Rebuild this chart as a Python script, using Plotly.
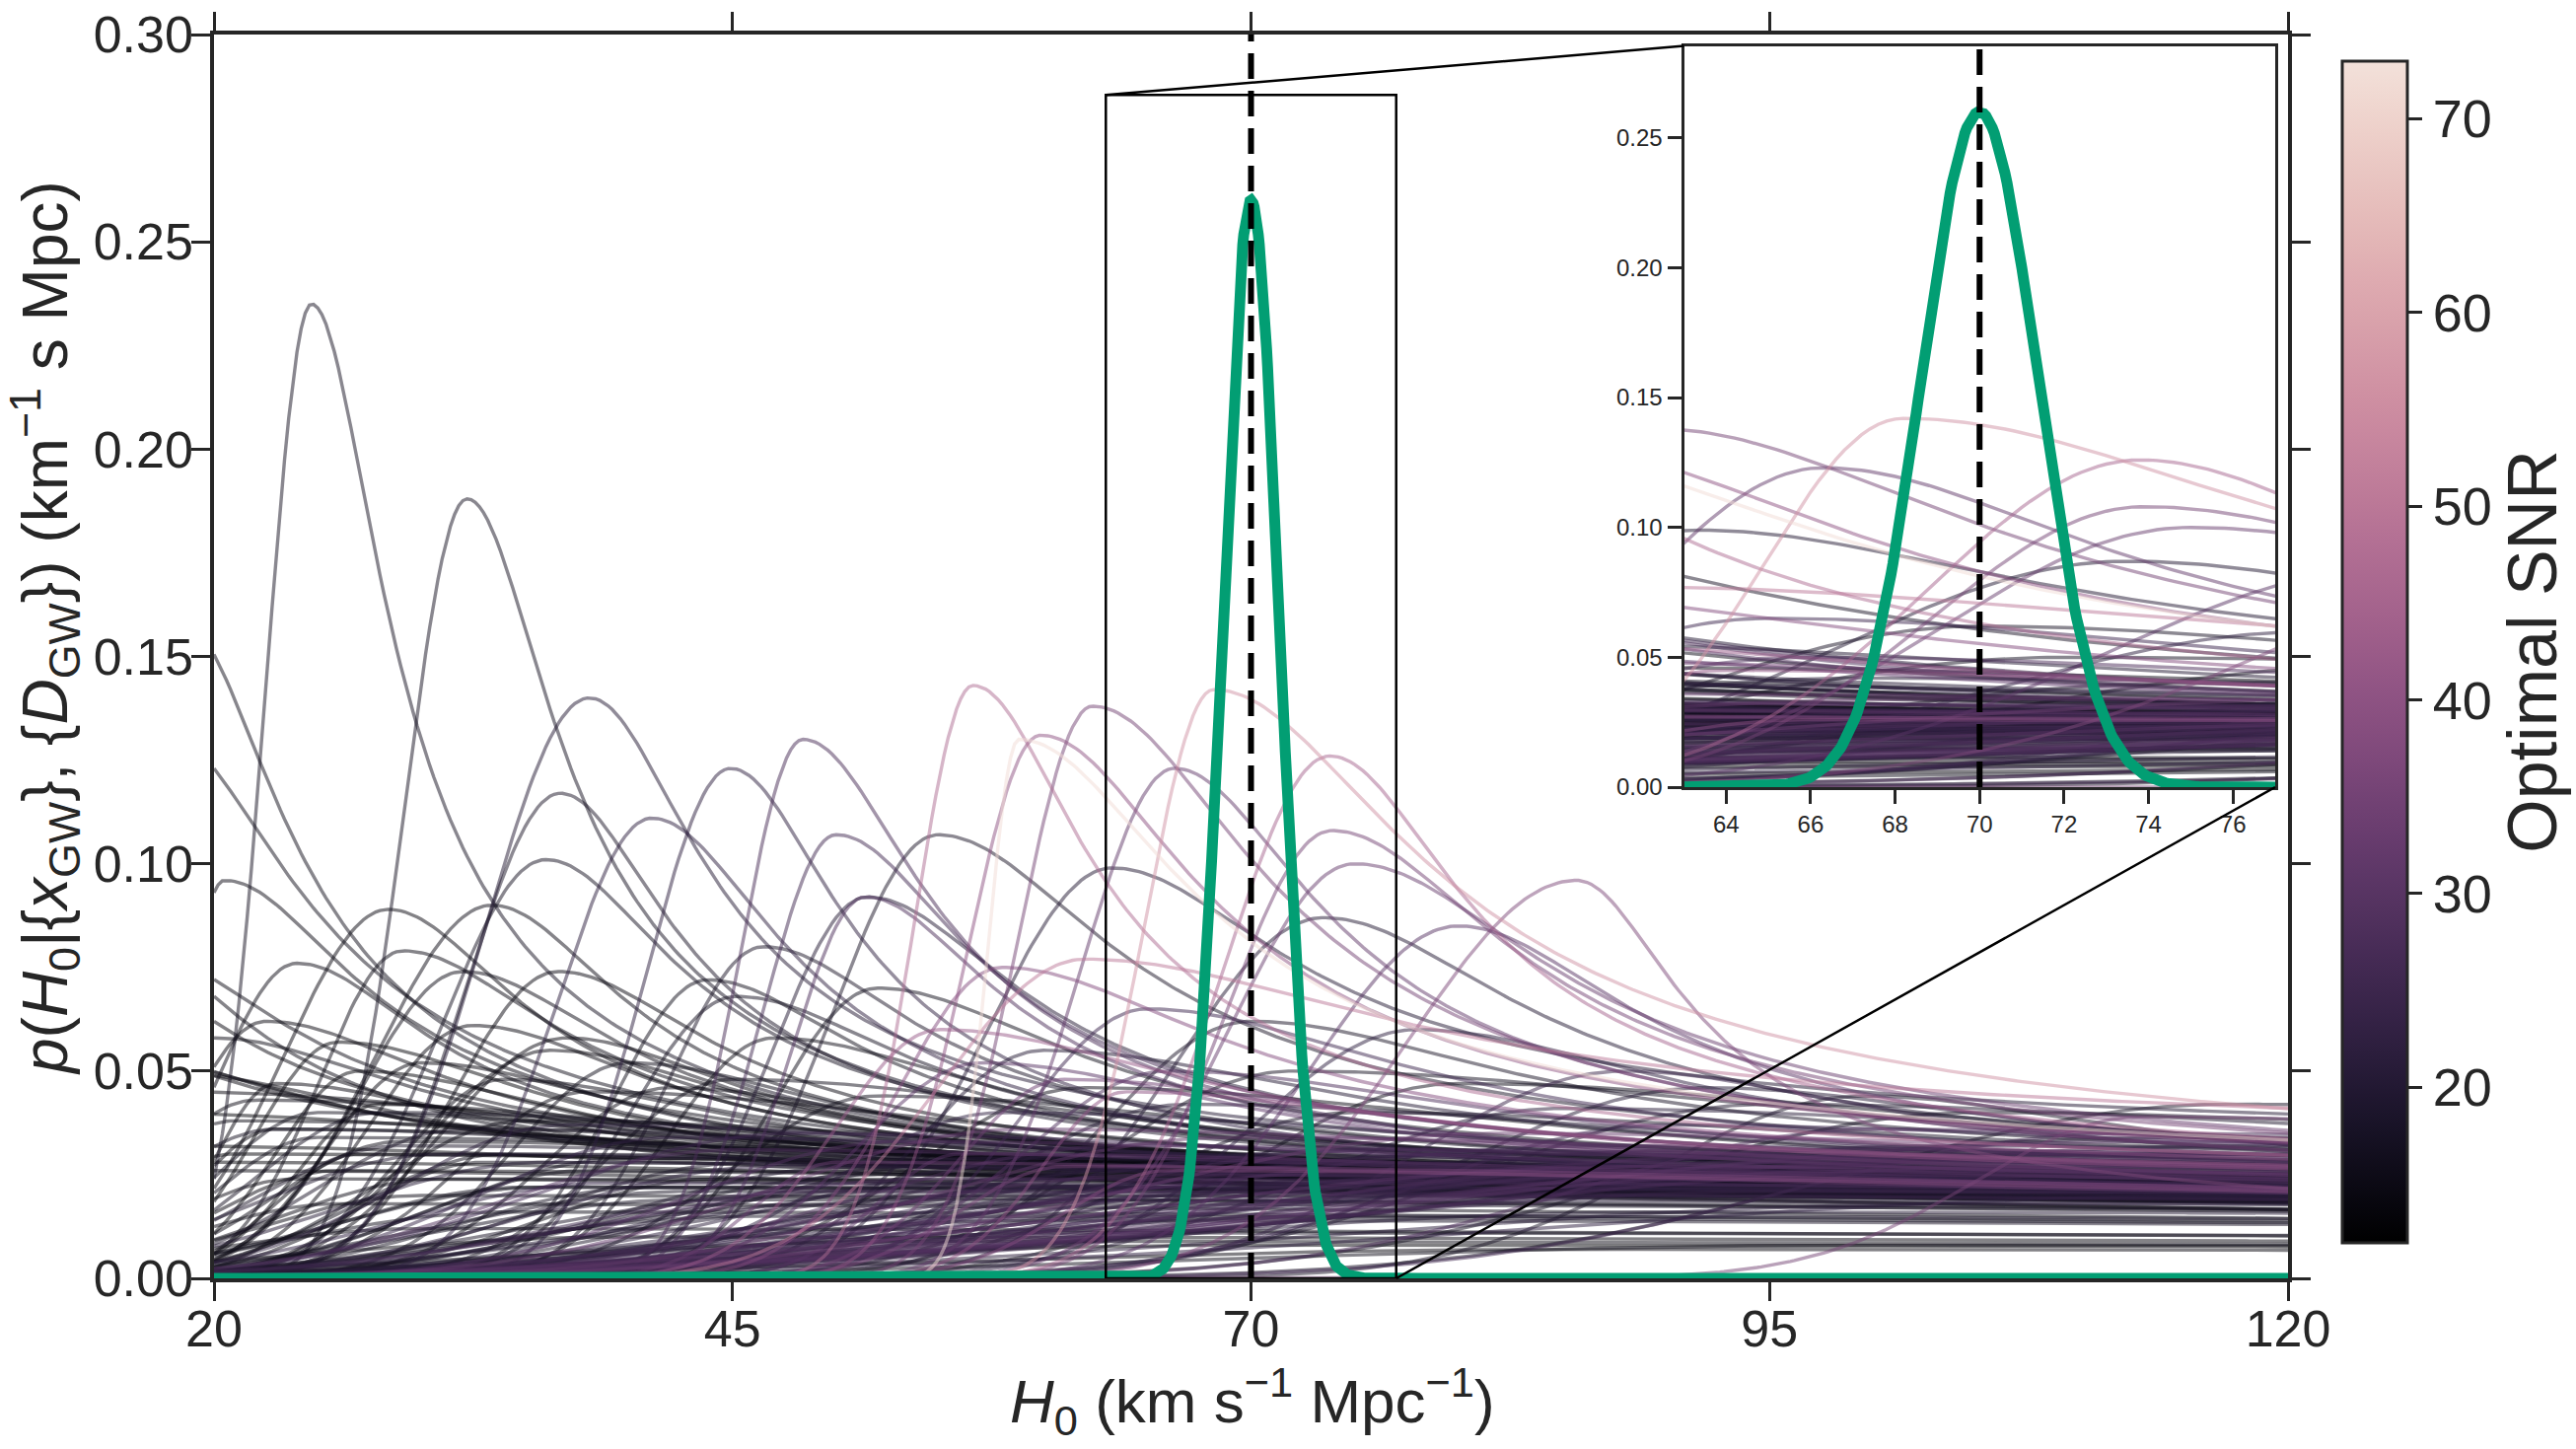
import numpy as np
import plotly.graph_objects as go

# ---------------- data ----------------
# Prominent single-event H0 posteriors: peak location, peak density,
# rise width (left), fall width (right), tail density and optimal SNR
peak_h0 = [24.7, 32.2, 18.5, 38.1, 36.7, 44.9, 48.4, 41.1, 50.0, 36.0,
           33.4, 28.4, 24.0, 32.0, 46.5, 17.5, 20.5, 14.0, 51.4, 29.1,
           36.6, 43.8, 32.5, 37.0, 45.2, 36.2, 22.5, 16.0, 12.0, 20.0,
           27.0, 23.0, 56.6, 62.35, 59.85, 58.8, 68.2, 73.8, 66.3, 54.9,
           63.3, 73.5, 51.5, 73.9, 75.0, 85.7, 113.0, 99.6, 62.0, 80.0,
           58.0, 55.0, 65.0, 70.0, 78.0, 60.0, 52.0, 47.0, 66.0, 88.0,
           92.0, 57.0, 61.0, 64.0, 26.0, 30.0, 34.0, 40.0, 42.0, 28.0]
peak_density = [.235, .188, .158, .140, .117, .123, .130, .111, .107, .101,
                .090, .089, .076, .074, .080, .132, .096, .090, .092, .079,
                .074, .072, .061, .058, .068, .055, .062, .080, .090, .058,
                .050, .047, .143, .138, .131, .130, .142, .126, .123, .107,
                .099, .087, .092, .108, .100, .096, .039, .044, .077, .085,
                .075, .060, .065, .062, .060, .055, .070, .058, .050, .050,
                .046, .052, .048, .045, .057, .052, .048, .052, .046, .042]
rise_width = [2.2, 3.0, 3.0, 5.0, 4.5, 4.0, 3.0, 4.5, 3.5, 5.0,
              5.5, 5.0, 4.0, 5.0, 4.5, 3.0, 2.0, 3.0, 3.5, 4.0,
              5.0, 4.5, 5.0, 6.0, 5.0, 6.0, 4.0, 3.0, 3.0, 3.0,
              4.0, 3.0, 2.8, 3.5, 3.5, 1.5, 3.3, 5.0, 4.5, 5.0,
              6.0, 7.0, 4.5, 5.0, 6.0, 8.0, 8.0, 10.0, 7.0, 7.0,
              5.0, 5.0, 6.0, 7.0, 8.0, 6.0, 5.0, 5.0, 7.0, 10.0,
              12.0, 6.0, 5.0, 4.0, 4.0, 4.5, 5.0, 5.5, 6.0, 4.0]
fall_width = [3.3, 4.0, 4.5, 5.0, 5.0, 5.0, 5.5, 6.0, 6.0, 6.0,
              6.0, 6.0, 6.0, 7.0, 7.0, 6.0, 6.0, 6.0, 6.0, 7.0,
              7.0, 7.0, 8.0, 8.0, 8.0, 9.0, 8.0, 7.0, 6.0, 9.0,
              10.0, 10.0, 5.0, 7.5, 7.0, 7.5, 9.0, 6.0, 6.5, 8.0,
              8.0, 9.0, 7.0, 8.0, 9.0, 4.7, 20.0, 12.0, 14.0, 8.0,
              10.0, 12.0, 12.0, 12.0, 12.0, 14.0, 9.0, 10.0, 15.0, 12.0,
              15.0, 12.0, 15.0, 15.0, 9.0, 10.0, 11.0, 10.0, 12.0, 12.0]
tail_density = [.012, .015, .012, .020, .018, .015, .015, .015, .020, .020,
                .018, .018, .020, .020, .020, .015, .020, .015, .020, .020,
                .020, .020, .020, .020, .020, .020, .020, .020, .020, .020,
                .018, .018, .020, .015, .020, .020, .020, .020, .020, .020,
                .030, .020, .020, .020, .020, .010, .030, .020, .030, .020,
                .020, .020, .020, .022, .020, .020, .020, .020, .020, .020,
                .020, .018, .020, .020, .018, .018, .018, .018, .018, .016]
event_snr = [17, 17, 16, 20, 18, 22, 27, 22, 26, 17,
             15, 14, 15, 15, 18, 16, 15, 15, 28, 15,
             14, 16, 14, 14, 17, 14, 14, 15, 14, 15,
             13, 14, 47, 35, 40, 72, 56, 45, 32, 18,
             20, 20, 20, 35, 33, 37, 35, 18, 50, 30,
             38, 42, 25, 18, 22, 20, 16, 15, 28, 24,
             20, 30, 34, 40, 13, 14, 15, 16, 15, 13]

# Broad, low single-event posteriors forming the dense band
bg_peak_h0 = [18, 15, 21, 25, 27, 23, 33, 29, 38, 31,
              44, 36, 41, 47, 52, 39, 58, 49, 63, 55,
              68, 61, 74, 66, 80, 71, 86, 77, 92, 83,
              98, 89, 104, 95, 110, 101, 115, 107, 20, 24,
              30, 35, 43, 50, 57, 65, 72, 79, 88, 96,
              16, 19, 26, 34, 46, 60, 75, 90, 105, 118,
              40, 55, 70, 85, 100, 30, 62, 48, 53, 59,
              64, 69, 76, 82, 42, 37, 45, 32, 28, 22,
              58, 67, 75, 85, 95, 105, 117, 52, 62, 45,
              38, 72, 80, 90, 100, 112, 56, 50, 61, 66,
              21, 26, 31, 36, 43, 48, 54, 60, 66, 73,
              79, 85, 91, 97, 103, 109, 114, 119, 23, 29,
              34, 40, 46, 51, 57, 63, 69, 75, 81, 87,
              93, 99, 106, 113, 17, 14, 12, 10, 25, 35]
bg_peak_density = [.045, .040, .038, .034, .030, .036, .028, .032, .026, .030,
                   .024, .028, .022, .027, .025, .023, .029, .021, .026, .024,
                   .028, .022, .027, .025, .030, .023, .029, .026, .031, .024,
                   .030, .027, .032, .028, .030, .026, .034, .029, .028, .024,
                   .020, .022, .019, .018, .020, .019, .021, .020, .022, .021,
                   .032, .026, .018, .016, .015, .014, .015, .016, .018, .020,
                   .010, .009, .008, .007, .008, .012, .011, .035, .033, .036,
                   .032, .034, .031, .035, .034, .037, .031, .036, .040, .043,
                   .040, .042, .040, .041, .042, .040, .042, .044, .046, .048,
                   .045, .050, .047, .037, .036, .035, .030, .028, .027, .026,
                   .030, .026, .024, .022, .021, .020, .022, .024, .023, .025,
                   .024, .026, .025, .027, .028, .027, .030, .032, .036, .033,
                   .030, .029, .028, .027, .029, .030, .028, .031, .030, .032,
                   .029, .031, .030, .033, .050, .055, .060, .065, .040, .038]
bg_rise_width = [4, 4, 5, 5, 4, 6, 6, 7, 8, 9,
                 8, 10, 9, 11, 12, 10, 13, 12, 14, 15,
                 16, 14, 18, 16, 20, 17, 22, 20, 24, 22,
                 26, 25, 28, 26, 30, 28, 32, 30, 5, 6,
                 8, 9, 12, 14, 16, 18, 20, 22, 24, 26,
                 4, 5, 7, 10, 13, 18, 22, 26, 30, 34,
                 15, 20, 25, 28, 30, 10, 20, 12, 10, 12,
                 13, 14, 16, 18, 9, 8, 11, 7, 6, 5,
                 8, 9, 10, 12, 14, 16, 18, 7, 8, 6,
                 6, 9, 10, 12, 14, 16, 4, 4, 5, 5,
                 5, 6, 8, 10, 12, 13, 15, 17, 18, 20,
                 22, 24, 26, 28, 30, 32, 34, 36, 4, 6,
                 7, 9, 10, 11, 13, 15, 17, 19, 21, 23,
                 25, 27, 30, 33, 3, 3, 3, 3, 5, 7]
bg_fall_width = [25, 30, 35, 40, 45, 30, 50, 40, 55, 45,
                 60, 50, 70, 45, 55, 65, 40, 70, 50, 60,
                 45, 70, 55, 65, 50, 75, 45, 60, 40, 70,
                 45, 55, 40, 60, 50, 55, 40, 50, 50, 60,
                 70, 65, 80, 80, 75, 80, 75, 80, 70, 75,
                 40, 55, 80, 90, 90, 90, 90, 90, 90, 90,
                 90, 90, 90, 90, 90, 90, 90, 35, 40, 35,
                 45, 40, 45, 40, 35, 30, 40, 35, 30, 28,
                 25, 25, 28, 30, 30, 30, 30, 22, 22, 20,
                 22, 25, 25, 30, 30, 35, 40, 45, 50, 45,
                 60, 70, 75, 80, 85, 80, 75, 70, 65, 60,
                 55, 50, 45, 45, 40, 40, 40, 40, 35, 40,
                 45, 50, 55, 60, 50, 45, 50, 45, 40, 40,
                 40, 35, 35, 35, 12, 10, 9, 8, 25, 30]
bg_tail_density = [.012, .010, .012, .014, .010, .012, .015, .012, .016, .010,
                   .014, .012, .015, .011, .013, .016, .010, .014, .012, .015,
                   .013, .016, .014, .012, .015, .013, .016, .014, .018, .012,
                   .017, .015, .020, .016, .020, .014, .022, .017, .010, .012,
                   .010, .013, .011, .012, .013, .012, .014, .013, .015, .014,
                   .008, .008, .008, .008, .008, .008, .009, .010, .011, .012,
                   .006, .005, .005, .004, .005, .006, .007, .012, .013, .014,
                   .013, .015, .014, .016, .012, .012, .013, .011, .011, .011,
                   .016, .018, .018, .020, .022, .024, .026, .014, .016, .014,
                   .013, .018, .018, .020, .022, .024, .012, .012, .012, .012,
                   .012, .014, .013, .015, .016, .017, .016, .018, .017, .019,
                   .018, .020, .019, .021, .020, .022, .021, .023, .010, .011,
                   .012, .013, .014, .015, .016, .017, .018, .019, .020, .021,
                   .022, .023, .024, .025, .015, .018, .020, .022, .012, .014]
bg_snr = [14, 13, 15, 16, 14, 17, 15, 18, 16, 19,
          15, 20, 17, 21, 16, 22, 18, 24, 19, 26,
          21, 23, 20, 27, 22, 25, 19, 28, 21, 24,
          23, 30, 22, 26, 24, 29, 20, 27, 13, 14,
          15, 16, 17, 18, 19, 20, 21, 22, 23, 24,
          13, 14, 15, 16, 17, 18, 19, 20, 21, 22,
          14, 15, 13, 14, 16, 15, 17, 25, 29, 32,
          27, 31, 26, 33, 23, 21, 28, 18, 17, 15,
          22, 20, 18, 21, 19, 17, 18, 16, 15, 16,
          15, 17, 16, 25, 28, 26, 30, 33, 36, 38,
          13, 14, 15, 16, 17, 18, 19, 20, 21, 22,
          23, 24, 25, 26, 27, 28, 24, 22, 14, 15,
          16, 17, 18, 19, 20, 21, 22, 23, 24, 25,
          26, 27, 28, 29, 14, 13, 15, 14, 16, 15]

# Combined posterior (green) and true value (dashed)
combined_h0 = 70.0
combined_peak = 0.26
combined_width = 1.38
true_h0 = 70.0

# axis settings
h0_range = [20, 120]
p_range = [0, 0.30]
x_ticks = [20, 45, 70, 95, 120]
zoom_h0 = [63, 77]
zoom_p = [0, 0.2854]
zoom_x_ticks = [64, 66, 68, 70, 72, 74, 76]
snr_range = [12, 73]
snr_ticks = [20, 30, 40, 50, 60, 70]

x_title = "<i>H</i><sub>0</sub> (km s<sup>\u22121</sup> Mpc<sup>\u22121</sup>)"
y_title = ("<i>p</i>(<i>H</i><sub>0</sub>|{<i>x</i><sub>GW</sub>}, "
           "{<i>D</i><sub>GW</sub>}) (km<sup>\u22121</sup> s Mpc)")
cbar_title = "Optimal SNR"

# ---------------- helpers ----------------
FONT = "Liberation Sans, Arial, sans-serif"
AX = "#262626"
GREEN = "#029E73"
LW = 3.4


def shape(x, mu, amp, sl, sr, tail):
    d = x - mu
    left = amp * np.exp(-0.5 * (d / sl) ** 2)
    right = tail + (amp - tail) / np.sqrt(1.0 + (d / sr) ** 2)
    return np.where(d < 0, left, right)


def cubehelix(v, light=0.9, dark=0.0, start=0.0, rot=0.4, hue=0.8):
    x = dark + v * (light - dark)
    a = hue * x * (1 - x) / 2
    phi = 2 * np.pi * (start / 3 + rot * x)
    r = x + a * (-0.14861 * np.cos(phi) + 1.78277 * np.sin(phi))
    g = x + a * (-0.29227 * np.cos(phi) - 0.90649 * np.sin(phi))
    b = x + a * (1.97294 * np.cos(phi))
    return tuple(int(round(255 * min(1, max(0, c)))) for c in (r, g, b))


def snr_color(s, alpha=0.5):
    v = (s - snr_range[0]) / (snr_range[1] - snr_range[0])
    v = min(1, max(0, v))
    r, g, b = cubehelix(v)
    return f"rgba({r},{g},{b},{alpha})"


colorscale = []
for i in range(33):
    v = i / 32
    r, g, b = cubehelix(v)
    colorscale.append([v, f"rgb({r},{g},{b})"])

# ---------------- figure ----------------
W, H = 2612, 1469
ML, MR, MT, MB = 217, 292, 35, 173
PW, PH = W - ML - MR, H - MT - MB
ix0, ix1 = (1707.5 - ML) / PW, (2307 - ML) / PW
iy0, iy1 = (H - MB - 798) / PH, (H - MB - 46.6) / PH

grid = np.arange(h0_range[0], h0_range[1] + 1e-9, 0.2)
mask = (grid >= zoom_h0[0] - 0.4) & (grid <= zoom_h0[1] + 0.4)

curves = []
for i in range(len(peak_h0)):
    curves.append((event_snr[i], peak_h0[i], peak_density[i], rise_width[i],
                   fall_width[i], tail_density[i]))
for i in range(len(bg_peak_h0)):
    curves.append((bg_snr[i], bg_peak_h0[i], bg_peak_density[i], bg_rise_width[i],
                   bg_fall_width[i], bg_tail_density[i]))
curves.sort(key=lambda c: c[0])

fig = go.Figure()
for snr, mu, amp, sl, sr, tail in curves:
    y = shape(grid, mu, amp, sl, sr, tail)
    col = snr_color(snr)
    fig.add_trace(go.Scatter(x=grid, y=y, mode="lines",
                             line=dict(color=col, width=LW),
                             hoverinfo="skip", xaxis="x", yaxis="y"))
    fig.add_trace(go.Scatter(x=grid[mask], y=y[mask], mode="lines",
                             line=dict(color=col, width=LW),
                             hoverinfo="skip", xaxis="x2", yaxis="y2"))

fine = np.arange(h0_range[0], h0_range[1] + 1e-9, 0.05)
green = combined_peak * np.exp(-0.5 * ((fine - combined_h0) / combined_width) ** 2)
fmask = (fine >= zoom_h0[0] - 0.2) & (fine <= zoom_h0[1] + 0.2)
fig.add_trace(go.Scatter(x=fine, y=green, mode="lines",
                         line=dict(color=GREEN, width=11), hoverinfo="skip",
                         xaxis="x", yaxis="y"))
fig.add_trace(go.Scatter(x=fine[fmask], y=green[fmask], mode="lines",
                         line=dict(color=GREEN, width=11), hoverinfo="skip",
                         xaxis="x2", yaxis="y2"))

fig.add_trace(go.Scatter(x=[true_h0, true_h0], y=p_range, mode="lines",
                         line=dict(color="black", width=6, dash="26px,12px"),
                         hoverinfo="skip", xaxis="x", yaxis="y"))
fig.add_trace(go.Scatter(x=[true_h0, true_h0], y=zoom_p, mode="lines",
                         line=dict(color="black", width=6, dash="26px,12px"),
                         hoverinfo="skip", xaxis="x2", yaxis="y2"))

# colorbar carrier
fig.add_trace(go.Scatter(
    x=[h0_range[0], h0_range[0]], y=[-1, -1], mode="markers",
    marker=dict(size=1, color=snr_range, cmin=snr_range[0], cmax=snr_range[1],
                colorscale=colorscale, showscale=True,
                colorbar=dict(
                    x=(2375 - ML) / PW, xanchor="left", xpad=0, ypad=0,
                    y=(H - MB - 660.5) / PH, yanchor="middle",
                    len=1198, lenmode="pixels", thickness=66, thicknessmode="pixels",
                    outlinewidth=3, outlinecolor=AX,
                    tickvals=snr_ticks, ticks="outside", ticklen=14, tickwidth=3,
                    tickcolor=AX, tickfont=dict(family=FONT, size=54, color=AX),
                    title=dict(text=cbar_title, side="right",
                               font=dict(family=FONT, size=70, color=AX)))),
    hoverinfo="skip", xaxis="x", yaxis="y"))

axis_common = dict(showgrid=False, zeroline=False, showline=True, linecolor=AX,
                   ticks="outside", tickcolor=AX)

fig.update_layout(
    width=W, height=H,
    margin=dict(l=ML, r=MR, t=MT, b=MB, autoexpand=False),
    plot_bgcolor="white", paper_bgcolor="white", showlegend=False,
    font=dict(family=FONT, color=AX),
    xaxis=dict(**axis_common, domain=[0, 1], range=h0_range, tickvals=x_ticks,
               linewidth=3.5, mirror="ticks", ticklen=19, tickwidth=3,
               ticklabelstandoff=-16, tickfont=dict(size=52, color=AX)),
    yaxis=dict(**axis_common, domain=[0, 1], range=p_range, dtick=0.05,
               tickformat=".2f", linewidth=3.5, mirror="ticks", ticklen=19,
               tickwidth=3, ticklabelstandoff=-12, tickfont=dict(size=52, color=AX)),
    xaxis2=dict(**axis_common, domain=[ix0, ix1], anchor="y2", range=zoom_h0,
                tickvals=zoom_x_ticks, linewidth=3, mirror=True, ticklen=14,
                tickwidth=3, tickfont=dict(size=24, color=AX)),
    yaxis2=dict(**axis_common, domain=[iy0, iy1], anchor="x2", range=zoom_p,
                dtick=0.05, tickformat=".2f", linewidth=3, mirror=True,
                ticklen=14, tickwidth=3, tickfont=dict(size=24, color=AX)),
)

# axis titles as annotations (placed like the reference)
fig.add_annotation(text=x_title, xref="paper", yref="paper",
                   x=(1270 - ML) / PW, y=(H - MB - 1420) / PH,
                   xanchor="center", yanchor="middle", showarrow=False,
                   font=dict(family=FONT, size=62, color=AX))
fig.add_annotation(text=y_title, xref="paper", yref="paper",
                   x=(45 - ML) / PW, y=(H - MB - 637) / PH, textangle=-90,
                   xanchor="center", yanchor="middle", showarrow=False,
                   font=dict(family=FONT, size=64, color=AX))

# zoom rectangle and connectors
fig.add_shape(type="rect", xref="x", yref="y", x0=zoom_h0[0], x1=zoom_h0[1],
              y0=zoom_p[0], y1=zoom_p[1], line=dict(color="black", width=2.5),
              layer="above")
rx0 = (zoom_h0[0] - h0_range[0]) / (h0_range[1] - h0_range[0])
rx1 = (zoom_h0[1] - h0_range[0]) / (h0_range[1] - h0_range[0])
ry1 = zoom_p[1] / p_range[1]
fig.add_shape(type="line", xref="paper", yref="paper", x0=rx0, y0=ry1, x1=ix0, y1=iy1,
              line=dict(color="black", width=2.5), layer="above")
fig.add_shape(type="line", xref="paper", yref="paper", x0=rx1, y0=0, x1=ix1, y1=iy0,
              line=dict(color="black", width=2.5), layer="above")

fig.write_html("out.html")
